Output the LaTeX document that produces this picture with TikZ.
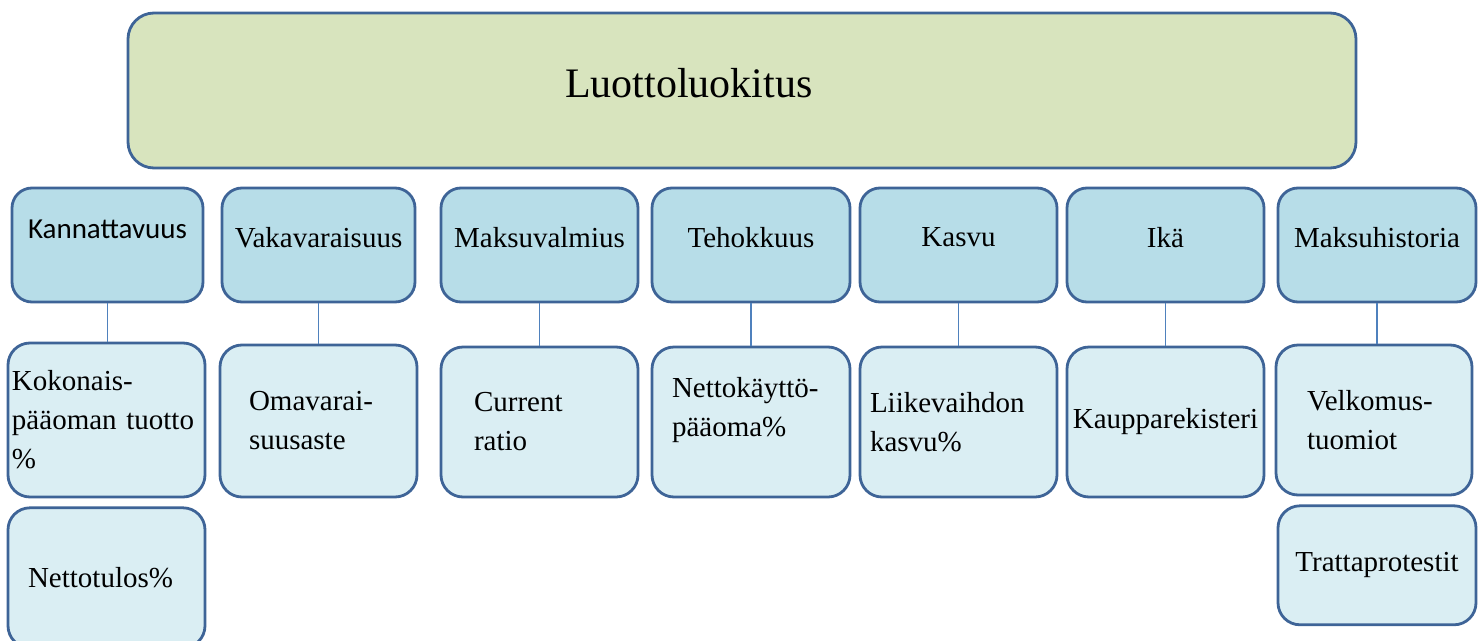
\documentclass[tikz,border=0pt]{standalone}
\usepackage{fontspec}
\setmainfont{Liberation Serif}
\newfontfamily\carlito{Carlito}
\usetikzlibrary{positioning}

\definecolor{rimblue}{HTML}{3E6497}
\definecolor{linkblue}{HTML}{4F81BD}
\definecolor{topgreen}{HTML}{D8E4BE}
\definecolor{catblue}{HTML}{B7DDE8}
\definecolor{subblue}{HTML}{DAEEF3}

\begin{document}
\begin{tikzpicture}[x=1pt, y=-1pt,
	box/.style={draw=rimblue, line width=2.8pt, rounded corners=22pt, inner sep=4pt, font=\fontsize{29}{39}\selectfont},
	topbox/.style={box, fill=topgreen, rounded corners=26pt, font=\fontsize{42}{50}\selectfont},
	catbox/.style={box, fill=catblue, minimum height=114pt, rounded corners=20pt, text depth=15pt},
	subbox/.style={box, fill=subblue, minimum height=150pt},
	link/.style={draw=linkblue, line width=1.2pt}]
					\useasboundingbox (0,0) rectangle (1483,640);

					\node[topbox, minimum width=1228pt, minimum height=155pt, text width=354pt, inner xsep=437pt, align=left, text depth=16pt] (top) at (742,90.5) {Luottoluokitus};

					\node[catbox, minimum width=191pt, text depth=31pt, font=\carlito\fontsize{29}{39}\selectfont] (kan) at (107.5,245) {Kannattavuus};
					\node[catbox, minimum width=193pt] (vak) at (318.5,245) {Vakavaraisuus};
					\node[catbox, minimum width=197pt] (mak) at (539.5,245) {Maksuvalmius};
					\node[catbox, minimum width=198pt] (teh) at (751,245) {Tehokkuus};
					\node[catbox, minimum width=197pt] (kas) at (958.5,245) {Kasvu};
					\node[catbox, minimum width=197pt] (ika) at (1165.5,245) {Ikä};
					\node[catbox, minimum width=198pt] (mah) at (1377,245) {Maksuhistoria};

					\node[subbox, minimum width=197pt, minimum height=154pt, text width=189pt, align=left] (kok) at (106.5,420) {Kokonais-\\pääoman tuotto\\\%};
					\node[subbox, minimum width=197pt, minimum height=152pt, text width=139pt, inner xsep=29pt, align=left] (omv) at (318.5,421) {Omavarai-\\suusaste};
					\node[subbox, minimum width=197pt, text width=131pt, inner xsep=33pt, align=left] (cur) at (539.5,422) {Current\\ratio};
					\node[subbox, minimum width=198pt, text width=158pt, inner xsep=20pt, align=left, text depth=70pt] (nkp) at (751,422) {Nettokäyttö-\\pääoma\%};
					\node[subbox, minimum width=197pt, text width=177pt, inner xsep=10pt, align=left] (lvk) at (958.5,422) {Liikevaihdon\\kasvu\%};
					\node[subbox, minimum width=197pt] (kpr) at (1165.5,422) {Kaupparekisteri};
					\node[subbox, minimum width=196pt, text width=134pt, inner xsep=31pt, align=left] (vel) at (1374,420) {Velkomus-\\tuomiot};
					\node[subbox, below=8pt of kok, minimum width=197pt, minimum height=140pt, text width=157pt, inner xsep=20pt, align=left] (net) {Nettotulos\%};
					\node[subbox, below=8pt of vel, minimum width=198pt, minimum height=119pt, xshift=3pt] (trp) {Trattaprotestit};

					\foreach \a/\b in {kan/kok, vak/omv, mak/cur, teh/nkp, kas/lvk, ika/kpr, mah/vel}
						\draw[link] (\a.south) -- (\a.south |- \b.north);
				\end{tikzpicture}
\end{document}
